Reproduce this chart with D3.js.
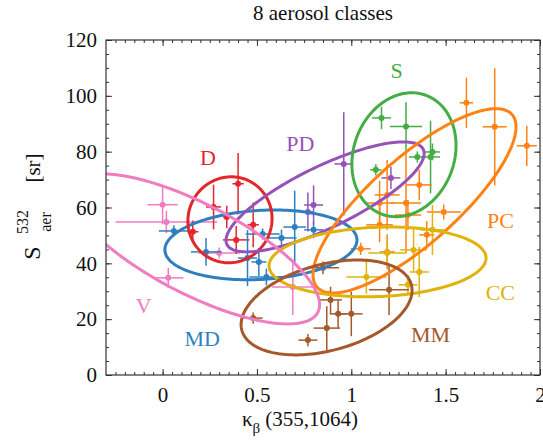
<!DOCTYPE html>
<html>
<head>
<meta charset="utf-8">
<script src="https://cdn.jsdelivr.net/npm/d3@7"></script>
<style>
  body { margin: 0; background: #fff; }
  text { font-family: 'Liberation Serif', 'Times New Roman', serif; fill: #111; }
</style>
</head>
<body>
<svg id="chart" width="543" height="446"></svg>
<script>
// classes, colours and label spots (data coords)
const classNames = ['V', 'D', 'MD', 'PD', 'S', 'PC', 'CC', 'MM']
const classColors = ['#f07cc2', '#e3262a', '#2f7fc0', '#9652b8', '#45ad45', '#ff8214', '#e0b20c', '#a5582b']
const labelX = [-0.10, 0.24, 0.21, 0.73, 1.24, 1.79, 1.79, 1.42]
const labelY = [25, 78, 13, 83, 109, 55.5, 29.5, 14.5]

// points per class: [kappa, S, xerr, yerr]
const vPoints = [
  [0.00, 61.0, 0.08, 7], [0.02, 54.8, 0.27, 4], [0.03, 34.8, 0.08, 3.6],
  [0.30, 43.7, 0.11, 2], [0.69, 31.5, 0.11, 10]
]
const dPoints = [
  [0.40, 68.5, 0.03, 11], [0.27, 60.2, 0.04, 8], [0.34, 56.6, 0.02, 4],
  [0.16, 51.3, 0.03, 4], [0.39, 48.4, 0.07, 5], [0.48, 53.8, 0.03, 8]
]
const mdPoints = [
  [0.06, 51.6, 0.08, 2], [0.23, 44.1, 0.08, 5], [0.45, 41.9, 0.05, 10],
  [0.51, 40.5, 0.04, 5], [0.53, 50.5, 0.09, 2], [0.63, 49.1, 0.08, 3],
  [0.70, 53.0, 0.06, 13], [0.55, 35.1, 0.09, 3], [0.80, 52.0, 0.05, 3]
]
const pdPoints = [
  [0.96, 75.6, 0.05, 18.5], [1.21, 70.6, 0.05, 4], [0.80, 60.9, 0.05, 7],
  [0.77, 58.4, 0.03, 7]
]
const sPoints = [
  [1.16, 92.1, 0.05, 4], [1.29, 89.0, 0.085, 8.7], [1.35, 78.1, 0.045, 2],
  [1.42, 78.1, 0.05, 13], [1.43, 79.9, 0.04, 3], [1.13, 73.5, 0.03, 2]
]
const pcPoints = [
  [1.61, 97.5, 0.035, 9], [1.76, 88.9, 0.064, 21], [1.93, 82.1, 0.053, 7.2],
  [1.49, 58.4, 0.09, 2.7], [1.36, 68.1, 0.066, 5.4], [1.19, 64.5, 0.066, 12.5],
  [1.15, 61.6, 0.08, 8], [1.29, 61.6, 0.08, 18], [1.15, 53.8, 0.07, 6.3],
  [1.40, 50.2, 0.04, 5], [1.19, 44.1, 0.04, 6.3], [1.05, 45.2, 0.053, 2.2],
  [1.30, 57.3, 0.07, 5.4]
]
const ccPoints = [
  [1.08, 35.1, 0.106, 6], [1.36, 36.9, 0.05, 9], [1.30, 32.3, 0.05, 3.5],
  [1.33, 44.8, 0.07, 7.5], [1.43, 52.0, 0.065, 9], [1.19, 43.7, 0.1, 4.5]
]
const mmPoints = [
  [1.20, 30.5, 0.106, 9], [1.00, 21.9, 0.06, 8], [0.93, 21.9, 0.045, 5],
  [0.89, 26.9, 0.06, 4.7], [0.87, 16.8, 0.07, 7.8], [0.85, 38.4, 0.085, 2.3],
  [0.77, 12.5, 0.05, 2.2], [0.48, 20.4, 0.05, 2]
]
const classPoints = [vPoints, dPoints, mdPoints, pdPoints, sPoints, pcPoints, ccPoints, mmPoints]

// ellipses: [cx, sx, cy, sy, phase]  x = cx + sx cos t, y = cy + sy sin(t + phase)
const classEllipses = [
  [0.17, 0.662, 45.2, 26.9, -0.84],
  [0.357, 0.223, 55.6, 15.4, 0.03],
  [0.521, 0.509, 46.6, 12.5, 0.14],
  [0.861, 0.525, 63.8, 19.7, 0.91],
  [1.279, 0.276, 78.9, 22.2, 0.15],
  [1.335, 0.538, 62.4, 33.0, 0.93],
  [1.139, 0.575, 40.5, 12.5, 0.11],
  [0.869, 0.453, 24.2, 17.0, 0.37]
]

const xMajor = [0, 0.5, 1, 1.5, 2]
const yMajor = [0, 20, 40, 60, 80, 100, 120]

const margin = { top: 40, right: 3, bottom: 71, left: 106 }
const width = 543, height = 446

const svg = d3.select('#chart')

var x = d3.scaleLinear().domain([-0.3, 2]).range([margin.left, width - margin.right])
var y = d3.scaleLinear().domain([0, 120]).range([height - margin.bottom, margin.top])

svg.append('defs').append('clipPath').attr('id', 'plotClip')
  .append('rect')
  .attr('x', x(-0.3)).attr('y', y(120))
  .attr('width', x(2) - x(-0.3)).attr('height', y(0) - y(120))

// ticks, inward on all four sides
const xMinor = d3.range(-0.25, 2.001, 0.05).map(d => +d.toFixed(2))
const yMinor = d3.range(0, 120.1, 5)
function tickAxis(axis, transform) {
  const g = svg.append('g').attr('transform', transform).call(axis)
  g.select('.domain').remove()
  g.selectAll('line').attr('stroke', '#333')
  g.selectAll('text').style('font-size', '21px').attr('fill', '#111')
  return g
}
tickAxis(d3.axisBottom(x).tickValues(xMinor).tickSize(-3).tickFormat(''), 'translate(0,' + y(0) + ')')
tickAxis(d3.axisTop(x).tickValues(xMinor).tickSize(-3).tickFormat(''), 'translate(0,' + y(120) + ')')
tickAxis(d3.axisLeft(y).tickValues(yMinor).tickSize(-3).tickFormat(''), 'translate(' + x(-0.3) + ',0)')
tickAxis(d3.axisRight(y).tickValues(yMinor).tickSize(-3).tickFormat(''), 'translate(' + x(2) + ',0)')
tickAxis(d3.axisBottom(x).tickValues(xMajor).tickSize(-6).tickPadding(12).tickFormat(d => String(d)), 'translate(0,' + y(0) + ')')
tickAxis(d3.axisTop(x).tickValues(xMajor).tickSize(-6).tickFormat(''), 'translate(0,' + y(120) + ')')
tickAxis(d3.axisLeft(y).tickValues(yMajor).tickSize(-6).tickPadding(9), 'translate(' + x(-0.3) + ',0)')
tickAxis(d3.axisRight(y).tickValues(yMajor).tickSize(-6).tickFormat(''), 'translate(' + x(2) + ',0)')

const plot = svg.append('g').attr('clip-path', 'url(#plotClip)')

// error bars + markers
classPoints.forEach(function (pts, i) {
  const col = classColors[i]
  const g = plot.append('g').attr('stroke', col).attr('stroke-width', 1.5)
  pts.forEach(function (p) {
    g.append('line')
      .attr('x1', x(p[0] - p[2])).attr('x2', x(p[0] + p[2]))
      .attr('y1', y(p[1])).attr('y2', y(p[1]))
    g.append('line')
      .attr('x1', x(p[0])).attr('x2', x(p[0]))
      .attr('y1', y(p[1] - p[3])).attr('y2', y(p[1] + p[3]))
    g.append('circle')
      .attr('cx', x(p[0])).attr('cy', y(p[1])).attr('r', 3)
      .attr('fill', col).attr('stroke', 'none')
  })
})

// ellipses
const ellipseLine = d3.line().x(d => x(d[0])).y(d => y(d[1])).curve(d3.curveLinearClosed)
const order = [2, 1, 3, 4, 5, 6, 7, 0]
order.forEach(function (i) {
  const e = classEllipses[i]
  const pts = d3.range(0, 2 * Math.PI, Math.PI / 90).map(t => [
    e[0] + e[1] * Math.cos(t),
    e[2] + e[3] * Math.sin(t + e[4])
  ])
  plot.append('path')
    .attr('d', ellipseLine(pts))
    .attr('fill', 'none')
    .attr('stroke', classColors[i])
    .attr('stroke-width', 3)
})

// class labels
classNames.forEach(function (name, i) {
  svg.append('text')
    .attr('x', x(labelX[i])).attr('y', y(labelY[i]))
    .attr('text-anchor', 'middle')
    .attr('dominant-baseline', 'central')
    .style('font-size', '22px')
    .style('fill', classColors[i])
    .text(name)
})

// frame
svg.append('rect')
  .attr('x', x(-0.3)).attr('y', y(120))
  .attr('width', x(2) - x(-0.3)).attr('height', y(0) - y(120))
  .attr('fill', 'none').attr('stroke', '#333').attr('stroke-width', 1.2)

// title
svg.append('text')
  .attr('x', (x(-0.3) + x(2)) / 2).attr('y', 20)
  .attr('text-anchor', 'middle')
  .style('font-size', '21px')
  .text('8 aerosol classes')

// x label
const xl = svg.append('text')
  .attr('x', 300).attr('y', 426)
  .attr('text-anchor', 'middle')
  .style('font-size', '21px')
xl.append('tspan').text('κ')
xl.append('tspan').attr('dy', 7).style('font-size', '15px').text('β')
xl.append('tspan').attr('dy', -7).text(' (355,1064)')

// y label, rotated pieces
function yPiece(txt, sx, sy, size) {
  svg.append('text')
    .attr('transform', 'translate(' + sx + ',' + sy + ') rotate(-90)')
    .attr('text-anchor', 'middle')
    .style('font-size', size)
    .text(txt)
}
yPiece('S', 40, 253, '24px')
yPiece('532', 28, 222, '16px')
yPiece('aer', 51, 222, '16px')
yPiece('[sr]', 40, 168, '21px')
</script>
</body>
</html>
